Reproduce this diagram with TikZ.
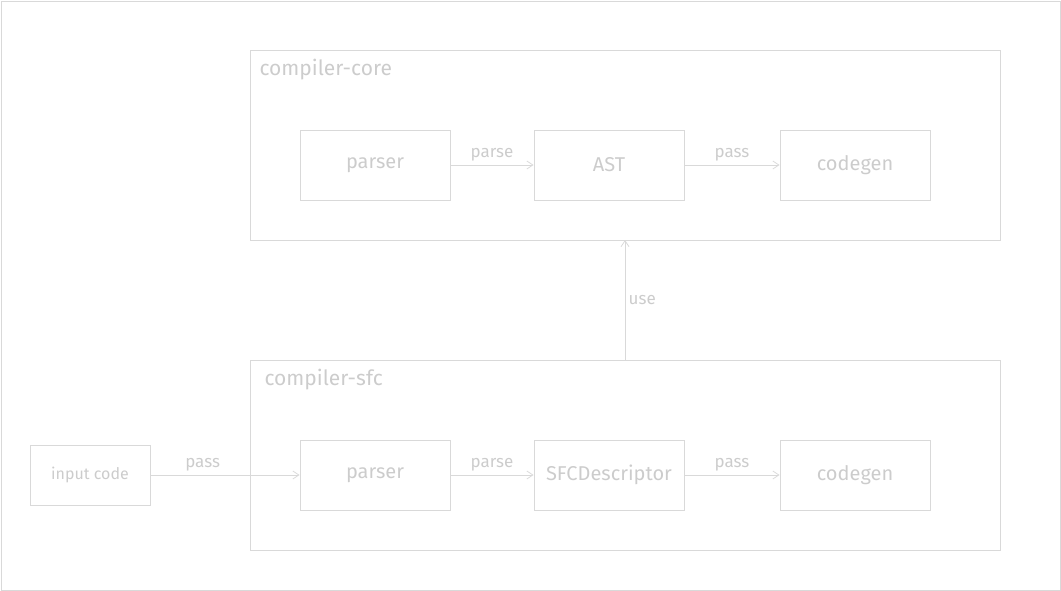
\documentclass[tikz,border=0pt]{standalone}
\usepackage{fontspec}
\setmainfont{Fira Sans}
\usetikzlibrary{arrows.meta}
\definecolor{sketch}{HTML}{D9D9D9}
\definecolor{sketchtext}{HTML}{CCCCCC}
\begin{document}
\begin{tikzpicture}[x=1pt,y=-1pt,
    every node/.style={text=sketchtext},
    group/.style={draw=sketch,line width=.8pt,anchor=north west,minimum width=750pt,minimum height=190pt},
    grouplabel/.style={anchor=west,font=\fontsize{21}{22}\selectfont},
    block/.style={draw=sketch,line width=.8pt,minimum width=150pt,minimum height=70pt,font=\fontsize{20}{22}\selectfont},
    flow/.style={draw=sketch,line width=.8pt,-{Straight Barb[length=6pt,width=8pt]}},
    flowlabel/.style={font=\fontsize{17}{18}\selectfont}]
    \useasboundingbox (0,0) rectangle (1061,591);
    \draw[sketch,line width=.8pt] (1,1) rectangle (1060,590);
    % compiler-core
    \node[group] (core) at (250,50) {};
    \node[grouplabel] at (256,70) {compiler-core};
    \node[block] (coreparser) at (375,165) {parser};
    \node[block] (ast) at (609,165) {AST};
    \node[block] (coregen) at (855,165) {codegen};
    \draw[flow] (coreparser) -- node[flowlabel,above] {parse} (ast);
    \draw[flow] (ast) -- node[flowlabel,above] {pass} (coregen);
    % compiler-sfc
    \node[group] (sfc) at (250,360) {};
    \node[grouplabel] at (261,380) {compiler-sfc};
    \node[block] (sfcparser) at (375,475) {parser};
    \node[block] (desc) at (609,475) {SFCDescriptor};
    \node[block] (sfcgen) at (855,475) {codegen};
    \draw[flow] (sfcparser) -- node[flowlabel,above] {parse} (desc);
    \draw[flow] (desc) -- node[flowlabel,above] {pass} (sfcgen);
    % input
    \node[block,minimum width=120pt,minimum height=60pt,font=\fontsize{16}{18}\selectfont] (input) at (90,475) {input code};
    \draw[flow] (input) -- node[flowlabel,above,pos=.35] {pass} (sfcparser);
    % use
    \coordinate (usefrom) at (625,360);
    \coordinate (useto) at (625,240);
    \draw[flow] (usefrom) -- node[flowlabel,right] {use} (useto);
\end{tikzpicture}
\end{document}
